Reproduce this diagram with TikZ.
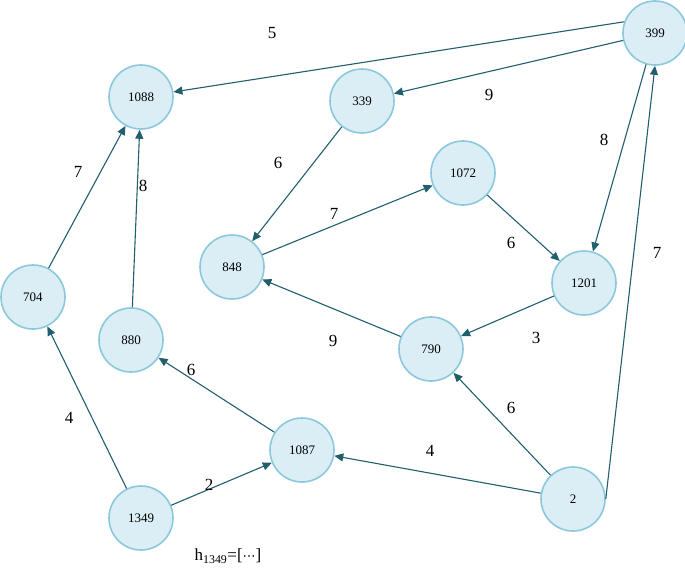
\documentclass[tikz,border=0pt]{standalone}
\usepackage{fontspec}
\setmainfont{Liberation Serif}
\newfontfamily\djv{DejaVu Sans}
\usetikzlibrary{arrows.meta}
\definecolor{nfill}{HTML}{DCEEF5}
\definecolor{nline}{HTML}{8CC8DC}
\definecolor{eline}{HTML}{215E6E}
\begin{document}
\begin{tikzpicture}[x=1pt,y=-1pt,
 vert/.style={circle,draw=nline,fill=nfill,line width=1.6pt,minimum size=64pt,inner sep=0pt,font=\fontsize{13}{14}\selectfont},
 edge/.style={draw=eline,line width=1.1pt,-{Triangle[length=9pt,width=8pt]}},
 lab/.style={font=\fontsize{17}{19}\selectfont}]
\useasboundingbox (0,0) rectangle (685,570);
\node[vert] (n399) at (655,33) {399};
\node[vert] (n1088) at (141,97) {1088};
\node[vert] (n339) at (362,101) {339};
\node[vert] (n1072) at (463,173) {1072};
\node[vert] (n848) at (232,267) {848};
\node[vert] (n1201) at (584,283) {1201};
\node[vert] (n704) at (33,297) {704};
\node[vert] (n880) at (131,340) {880};
\node[vert] (n790) at (431,349) {790};
\node[vert] (n1087) at (302,450) {1087};
\node[vert] (n2) at (573,499) {2};
\node[vert] (n1349) at (141,518) {1349};
\draw[edge] (n399.160) -- (n1088);
\draw[edge] (n399) -- (n339);
\draw[edge] (n399) -- (n1201);
\draw[edge] (n2.east) -- (n399.south);
\draw[edge] (n339) -- (n848);
\draw[edge] (n848) -- (n1072);
\draw[edge] (n1072) -- (n1201);
\draw[edge] (n1201) -- (n790);
\draw[edge] (n790) -- (n848);
\draw[edge] (n2) -- (n790);
\draw[edge] (n2) -- (n1087);
\draw[edge] (n1087) -- (n880);
\draw[edge] (n880) -- (n1088);
\draw[edge] (n704) -- (n1088);
\draw[edge] (n1349) -- (n704);
\draw[edge] (n1349) -- (n1087);
\node[lab] (l1) at (272,33) {5};
\node[lab] (l2) at (489,95) {9};
\node[lab] (l3) at (604,140) {8};
\node[lab] (l4) at (657,253) {7};
\node[lab] (l5) at (278,163) {6};
\node[lab] (l6) at (334,214) {7};
\node[lab] (l7) at (511,243) {6};
\node[lab] (l8) at (536,338) {3};
\node[lab] (l9) at (333,341) {9};
\node[lab] (l10) at (511,408) {6};
\node[lab] (l11) at (430,451) {4};
\node[lab] (l12) at (191,370) {6};
\node[lab] (l13) at (143,186) {8};
\node[lab] (l14) at (78,172) {7};
\node[lab] (l15) at (69,418) {4};
\node[lab] (l16) at (209,485) {2};
\node[lab] (hl) at (228,556) {h\textsubscript{1349}=[{\djv\fontsize{13}{14}\selectfont ⋯}]};
\end{tikzpicture}
\end{document}
